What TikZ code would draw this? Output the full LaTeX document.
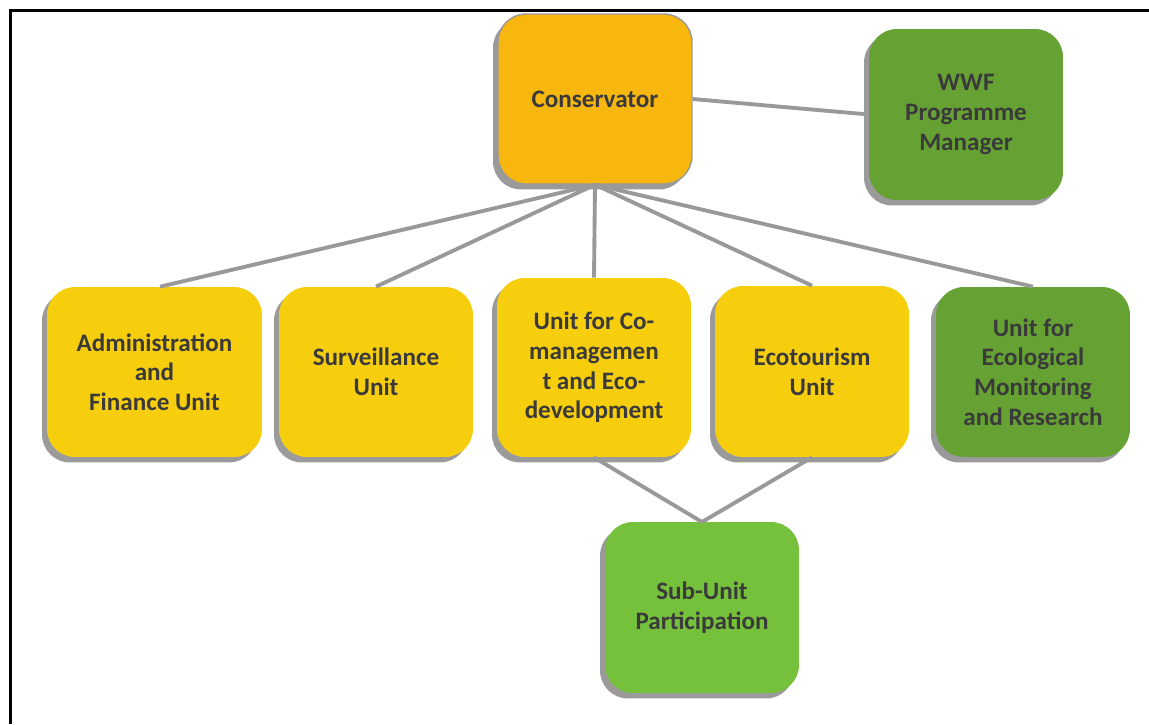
\documentclass[tikz,border=0pt]{standalone}
\usepackage{fontspec}
\setmainfont{Carlito}
\usetikzlibrary{shadows}
\definecolor{conscol}{HTML}{F8B70E}
\definecolor{unitcol}{HTML}{F7CE0E}
\definecolor{darkgreen}{HTML}{65A233}
\definecolor{lightgreen}{HTML}{76C13B}
\definecolor{linkgray}{HTML}{999999}
\definecolor{shadowgray}{HTML}{9A9A9A}
\definecolor{txtcol}{HTML}{3A3A3A}
\tikzset{
  box/.style={rectangle, rounded corners=0.56cm, align=center, inner sep=0pt,
    text=txtcol, font=\fontsize{14.3}{16.9}\selectfont\bfseries,
    drop shadow={shadow xshift=-0.1cm, shadow yshift=-0.11cm, fill=shadowgray, opacity=1}},
  link/.style={draw=linkgray, line width=2.2pt},
  frame/.style={draw=black, line width=1.2pt}
}
\begin{document}
\begin{tikzpicture}[x=0.02cm, y=-0.02cm]
  \useasboundingbox (0,0) rectangle (1149,724);
  % page frame: top and left rules
  \draw[frame] (10.5,724) -- (10.5,10.5) -- (1149,10.5);

  % junction above the sub-unit
  \coordinate (jn) at (702,522);

  % boxes
  \node[box, fill=conscol, draw=linkgray, line width=0.8pt,
        minimum width=3.88cm, minimum height=3.40cm] (cons) at (595,99) {Conservator};
  \node[box, fill=darkgreen, minimum width=3.88cm, minimum height=3.42cm] (wwf) at (966,114.5)
        {WWF\\Programme\\Manager};
  \node[box, fill=unitcol, minimum width=4.30cm, minimum height=3.40cm] (admin) at (154.5,372)
        {Administration\\and\\Finance Unit};
  \node[box, fill=unitcol, minimum width=3.88cm, minimum height=3.40cm] (surv) at (376,372)
        {Surveillance\\Unit};
  \node[box, fill=unitcol, minimum width=3.88cm, minimum height=3.58cm] (coman) at (594,367.5)
        {Unit for Co-\\managemen\\t and Eco-\\development};
  \node[box, fill=unitcol, minimum width=3.88cm, minimum height=3.42cm] (eco) at (812,371.5)
        {Ecotourism\\Unit};
  \node[box, fill=darkgreen, minimum width=3.88cm, minimum height=3.40cm] (ecol) at (1033,372)
        {Unit for\\Ecological\\Monitoring\\and Research};
  \node[box, fill=lightgreen, minimum width=3.88cm, minimum height=3.42cm] (sub) at (702,607.5)
        {Sub-Unit\\Participation};

  % links
  \draw[link] (cons.east) -- (wwf.west);
  \draw[link] (cons.south) -- ([xshift=0.11cm]admin.north);
  \draw[link] (cons.south) -- (surv.north);
  \draw[link] (cons.south) -- (coman.north);
  \draw[link] (cons.south) -- (eco.north);
  \draw[link] (cons.south) -- (ecol.north);
  \draw[link] (coman.south) -- (jn);
  \draw[link] (eco.south) -- (jn);
\end{tikzpicture}
\end{document}
